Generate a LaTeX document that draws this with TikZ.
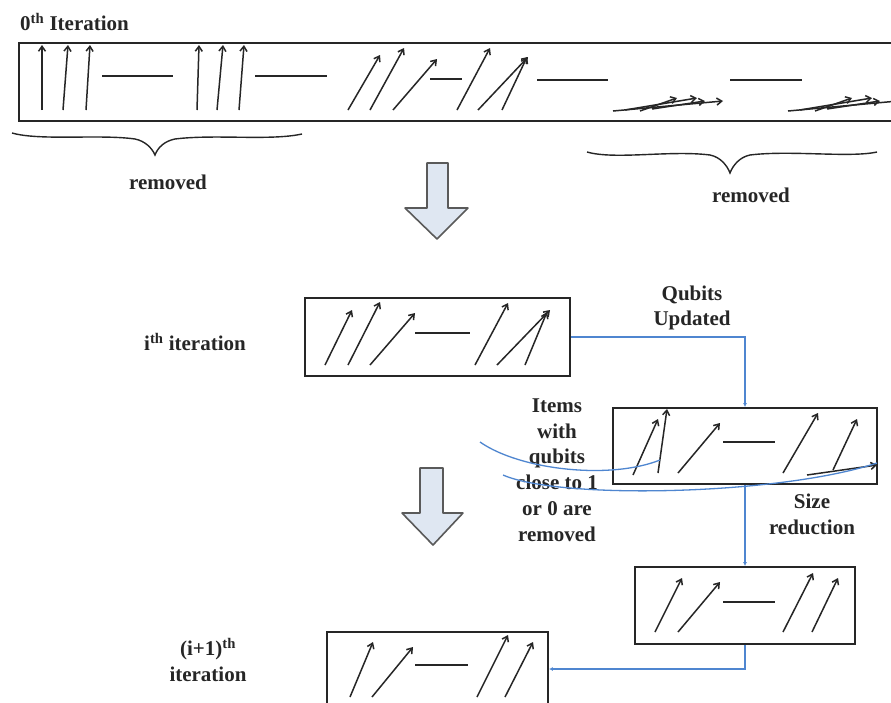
\documentclass[tikz,border=0pt]{standalone}
\usepackage{fontspec}
\setmainfont{Liberation Serif}
\usetikzlibrary{arrows.meta}
\definecolor{ink}{HTML}{262626}
\definecolor{bl}{HTML}{4F86D0}
\definecolor{bafill}{HTML}{DFE7F2}
\definecolor{baline}{HTML}{5A5A5A}
\begin{document}
\begin{tikzpicture}[x=1pt,y=-1pt,
  qbox/.style={draw=ink, line width=1.9pt, inner sep=0pt},
  qa/.style={draw=ink, line width=1.5pt, -{Straight Barb[length=5pt,width=7pt]}},
  qline/.style={draw=ink, line width=1.7pt},
  conn/.style={draw=bl, line width=1.4pt, -{Latex[length=4pt,width=4pt]}},
  curv/.style={draw=bl, line width=1.3pt},
  blockarrow/.style={draw=baline, fill=bafill, line width=1.6pt, line join=round},
  brace/.style={draw=ink, line width=1.4pt},
  txt/.style={font=\bfseries\fontsize{21}{25.8}\selectfont, text=ink, align=center, inner sep=0pt}]
\useasboundingbox (0,0) rectangle (891,702);
\clip (0,0) rectangle (891,702);
\fill[white] (0,0) rectangle (891,702);

% boxes
\node[qbox, minimum width=886pt, minimum height=78pt] (b0) at (462,82) {};
\node[qbox, minimum width=265pt, minimum height=78pt] (bi) at (437.5,337) {};
\node[qbox, minimum width=264pt, minimum height=76pt] (b2) at (745,446) {};
\node[qbox, minimum width=220pt, minimum height=77pt] (b3) at (745,605.5) {};
\node[qbox, minimum width=221pt, minimum height=74pt] (b4) at (437.5,669) {};

% texts
\node[txt, anchor=west] (t0) at (20,22) {0\textsuperscript{th} Iteration};
\node[txt] (rem1) at (168,182) {removed};
\node[txt] (rem2) at (751,195) {removed};
\node[txt] (ti) at (195,342) {i\textsuperscript{th} iteration};
\node[txt] (tq) at (692,308) {Qubits\\Updated};
\node[txt] (titems) at (557,470) {Items\\with\\qubits\\close to 1\\or 0 are\\removed};
\node[txt] (tsize) at (812,514) {Size\\reduction};
\node[txt] (tnext) at (208,660) {(i+1)\textsuperscript{th}\\iteration};

% top box contents
\draw[qa] (42,110) -- (42,45);
\draw[qa] (63,110) -- (68,45);
\draw[qa] (86,110) -- (90,45);
\draw[qline] (102,76) -- (173,76);
\draw[qa] (197,110) -- (199,45);
\draw[qa] (217,110) -- (223,45);
\draw[qa] (239,110) -- (244,45);
\draw[qline] (255,76) -- (327,76);
\draw[qa] (348,110) -- (380,55);
\draw[qa] (370,110) -- (404,48);
\draw[qa] (393,110) -- (437,59);
\draw[qline] (430,79) -- (462,79);
\draw[qa] (457,110) -- (490,48);
\draw[qa] (478,110) -- (528,57);
\draw[qa] (502,110) -- (527,57);
\draw[qline] (537,80) -- (608,80);
\draw[qa] (613,111) -- (723,101);
\draw[qa] (625,110) -- (697,98);
\draw[qa] (640,111) -- (677,98);
\draw[qa] (652,109) -- (705,101);
\draw[qline] (730,80) -- (802,80);
\draw[qa] (788,111) -- (898,101);
\draw[qa] (800,110) -- (872,98);
\draw[qa] (815,111) -- (852,98);
\draw[qa] (827,109) -- (880,101);

% braces
\draw[brace] (12,133) .. controls (40,141) and (100,134) .. (135,139) .. controls (145,141) and (152,148) .. (155,155) .. controls (158,147) and (165,141) .. (175,139) .. controls (215,134) and (270,141) .. (302,134);
\draw[brace] (587,152) .. controls (615,160) and (670,150) .. (710,155) .. controls (720,157) and (727,165) .. (730,173) .. controls (733,165) and (740,157) .. (750,155) .. controls (790,150) and (850,158) .. (877,152);

% block arrows
\draw[blockarrow] (427,163) -- (448,163) -- (448,208) -- (468,208) -- (437,239) -- (405,208) -- (427,208) -- cycle;
\draw[blockarrow] (420,468) -- (443,468) -- (443,513) -- (463,513) -- (433,545) -- (402,513) -- (420,513) -- cycle;

% i-th box contents
\draw[qa] (325,365) -- (352,310);
\draw[qa] (348,365) -- (380,302);
\draw[qa] (370,365) -- (415,313);
\draw[qline] (415,333) -- (470,333);
\draw[qa] (475,365) -- (508,303);
\draw[qa] (497,365) -- (550,310);
\draw[qa] (525,365) -- (547,312);

% box 2 contents
\draw[qa] (633,475) -- (658,419);
\draw[qa] (658,473) -- (667,409);
\draw[qa] (678,473) -- (720,423);
\draw[qline] (723,442) -- (775,442);
\draw[qa] (783,473) -- (818,413);
\draw[qa] (833,470) -- (857,419);
\draw[qa] (807,475) -- (877,465);

% box 3 contents
\draw[qa] (655,632) -- (682,578);
\draw[qa] (678,632) -- (720,582);
\draw[qline] (723,602) -- (775,602);
\draw[qa] (783,632) -- (813,573);
\draw[qa] (812,632) -- (838,578);

% box 4 contents
\draw[qa] (350,697) -- (373,642);
\draw[qa] (372,697) -- (413,647);
\draw[qline] (415,665) -- (468,665);
\draw[qa] (477,697) -- (508,635);
\draw[qa] (505,697) -- (533,642);

% blue curves
\draw[curv] (480,442) .. controls (520,470) and (610,480) .. (660,460);
\draw[curv] (503,475) .. controls (560,500) and (780,495) .. (877,463);

% connectors
\draw[conn] (bi.east) -| (b2.north);
\draw[conn] (b2.south) -- (b3.north);
\draw[conn] (b3.south) |- (b4.east);
\end{tikzpicture}
\end{document}
